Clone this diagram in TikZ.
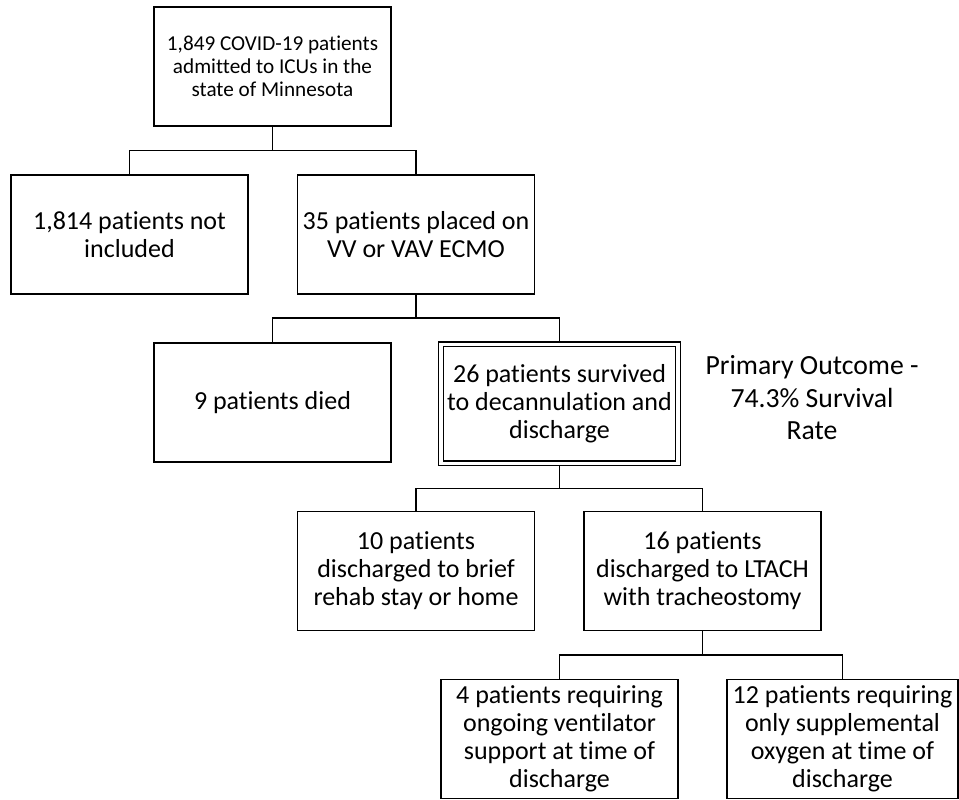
\documentclass[tikz,border=0pt]{standalone}
\usepackage{fontspec}
\setmainfont{Carlito}[Ligatures=NoCommon]
\usetikzlibrary{positioning,calc}

\begin{document}
\begin{tikzpicture}[
    node distance=24.5pt,
    box/.style={rectangle, draw, line width=0.9pt, minimum width=118.5pt, minimum height=59.5pt, align=center, inner sep=2pt, outer sep=0pt, font=\fontsize{13pt}{14pt}\selectfont},
    survbox/.style={box, double, line width=0.8pt, double distance=1.6pt, outer sep=1.6pt},
    note/.style={align=center, inner sep=0pt, font=\fontsize{13.85pt}{16.25pt}\selectfont},
    link/.style={line width=0.7pt}
]
    \useasboundingbox (0,0) rectangle (479.5pt,-399.5pt);

    \node[box, font=\fontsize{10.6pt}{11.5pt}\selectfont] (icu) at (136.25pt,-33.25pt) {1,849 COVID-19 patients\\admitted to ICUs in the\\state of Minnesota};
    \node[box, below=of icu, xshift=-71.5pt] (excluded) {1,814 patients not\\included};
    \node[box, below=of icu, xshift=71.75pt] (ecmo) {35 patients placed on\\VV or VAV ECMO};
    \node[box, below=of ecmo, xshift=-71.75pt] (died) {9 patients died};
    \node[survbox, below=23.5pt of ecmo, xshift=71.75pt] (survived) {26 patients survived\\to decannulation and\\discharge};
    \node[note, right=12pt of survived, yshift=3pt] (outcome) {Primary Outcome -\\74.3\% Survival\\Rate};
    \node[box, below=22.5pt of survived, xshift=-71.75pt] (rehab) {10 patients\\discharged to brief\\rehab stay or home};
    \node[box, below=22.5pt of survived, xshift=71.5pt] (ltach) {16 patients\\discharged to LTACH\\with tracheostomy};
    \node[box, below=of ltach, xshift=-71.5pt] (vent) {4 patients requiring\\ongoing ventilator\\support at time of\\discharge};
    \node[box, minimum width=115.5pt, below=of ltach, xshift=70pt] (oxygen) {12 patients requiring\\only supplemental\\oxygen at time of\\discharge};

    \draw[link] (icu.south) -- ++(0,-12.25pt) coordinate (split1) -| (excluded.north);
    \draw[link] (split1) -| (ecmo.north);
    \draw[link] (ecmo.south) -- ++(0,-12pt) coordinate (split2) -| (died.north);
    \draw[link] (split2) -| (survived.north);
    \draw[link] (survived.south) -- ++(0,-11pt) coordinate (split3) -| (rehab.north);
    \draw[link] (split3) -| (ltach.north);
    \draw[link] (ltach.south) -- ++(0,-12.25pt) coordinate (split4) -| (vent.north);
    \draw[link] (split4) -| (oxygen.north);
\end{tikzpicture}
\end{document}
